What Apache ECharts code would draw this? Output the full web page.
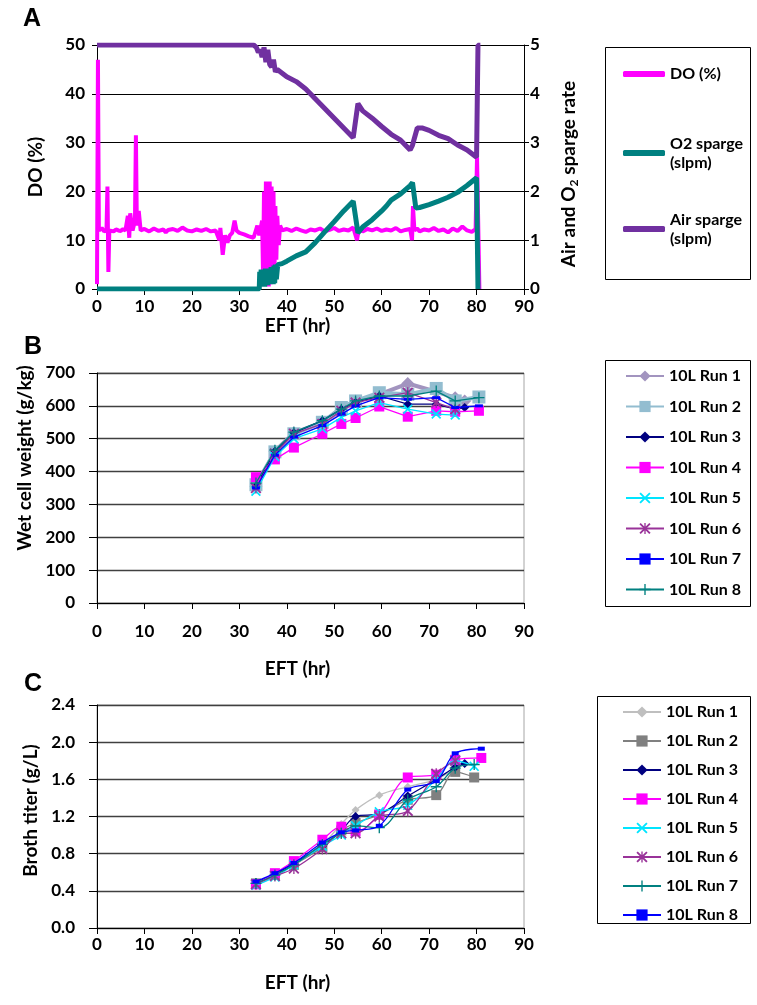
<!DOCTYPE html>
<html><head><meta charset="utf-8">
<script src="https://cdn.jsdelivr.net/npm/echarts@6/dist/echarts.min.js"></script>
<style>html,body{margin:0;padding:0;background:#fff}#c{width:757px;height:1005px}</style>
</head><body><div id="c"></div>
<script>
// ---------- Panel A data: [EFT hr, value] ----------
const doPct = [[0,1],[0.2,47],[0.4,12],[1,12.5],[1.5,11.8],[2,12],[2.2,21],[2.4,3.5],[2.6,12],[3,12.3],[3.5,11.8],[4,12.2],[4.5,12],[5,11.9],[5.5,12.3],[6,12],[6.5,15],[6.8,10.5],[7,15.5],[7.5,12],[8,14],[8.2,31.5],[8.4,13],[8.8,16],[9.2,12],[10,12.3],[11,11.8],[12,12.4],[13,11.9],[14,12.2],[14.5,11.6],[15,12.1],[16,12.3],[17,11.9],[18,12.6],[19,12],[20,11.8],[21,12.2],[22,11.9],[23,12.3],[24,11.8],[25,12],[25.8,10],[26,12.5],[26.5,7],[27,11],[27.5,9.5],[28,11],[28.5,11.5],[29,14],[29.4,12],[30,11.5],[31,11.2],[32,10.8],[33,10.5],[33.8,13],[34.2,11],[34.8,14],[35,3],[35.2,20],[35.4,1],[35.6,22],[35.8,2],[36,21.5],[36.2,0.5],[36.4,22],[36.6,1],[36.8,21],[37,2],[37.2,20],[37.4,3],[37.6,17],[37.8,6],[38,15],[38.3,9],[38.6,13],[39,12],[40,12.3],[41,11.9],[42,12.4],[43,12],[44,11.7],[45,12.2],[46,12],[47,12.4],[48,11.8],[49,12.1],[50,12.5],[51,11.9],[52,12.2],[53,12],[54,12.6],[54.8,10],[55.2,12.4],[56,11.8],[57,12.3],[58,12],[59,12.4],[60,11.9],[61,12.2],[62,12],[63,12.5],[64,11.8],[65,12.1],[66,12.3],[66.4,10],[66.6,17],[66.9,12],[67.5,12.4],[68,11.8],[69,12.2],[70,12],[71,12.5],[72,11.9],[73,12.2],[74,11.6],[75,12.4],[76,11.9],[77,12.8],[78,12],[79,11.7],[79.8,12.3],[80.1,27],[80.6,0]];
const o2Sparge = [[0,0],[34.2,0],[34.3,0.35],[34.45,0.05],[34.6,0.4],[34.75,0.05],[34.9,0.38],[35.05,0.05],[35.2,0.4],[35.35,0.05],[35.5,0.42],[35.65,0.08],[35.8,0.42],[35.95,0.08],[36.1,0.4],[36.25,0.1],[36.4,0.42],[36.55,0.1],[36.7,0.45],[36.85,0.12],[37,0.45],[37.15,0.1],[37.3,0.48],[37.45,0.12],[37.6,0.5],[37.8,0.2],[38.1,0.5],[39,0.52],[40,0.57],[42,0.68],[44,0.76],[46,0.95],[48,1.17],[50,1.38],[52,1.6],[54,1.8],[55,1.15],[56,1.27],[58,1.42],[60,1.6],[61,1.7],[62,1.82],[64,1.95],[66,2.12],[66.5,2.18],[67.2,1.66],[68,1.67],[70,1.73],[72,1.8],[74,1.88],[76,1.98],[78,2.12],[80,2.28],[80.3,0]];
const airSparge = [[0,5],[33,5],[33.6,4.95],[34,4.85],[34.4,4.9],[34.8,4.75],[35.2,4.95],[35.6,4.65],[36,4.9],[36.4,4.6],[36.8,4.55],[37.2,4.7],[37.6,4.45],[38,4.5],[40,4.35],[42,4.25],[44,4.1],[46,3.9],[48,3.7],[50,3.5],[52,3.3],[54,3.1],[55,3.8],[56,3.65],[58,3.5],[60,3.33],[62,3.17],[64,3.05],[66,2.85],[66.5,2.95],[67.5,3.3],[68.5,3.3],[70,3.25],[72,3.15],[74,3.08],[76,2.95],[78,2.85],[80,2.7],[80.3,5],[80.8,5]];

// ---------- Panel B data: wet cell weight (g/kg) ----------
const wcwTime = [33.5,37.5,41.5,47.5,51.5,54.5,59.5,65.5,71.5,75.5,77.5,80.5];
const wcwRun1 = [355,462,518,550,585,615,635,668,643,625,615,null];
const wcwRun2 = [360,460,515,550,595,615,640,635,653,615,null,627];
const wcwRun3 = [355,462,518,555,590,610,630,605,605,590,595,null];
const wcwRun4 = [383,437,473,515,545,563,598,567,585,582,null,585];
const wcwRun5 = [340,445,500,530,565,585,610,590,575,572,null,null];
const wcwRun6 = [350,455,515,545,585,610,625,640,610,590,null,null];
const wcwRun7 = [350,450,505,540,575,600,625,620,625,595,null,600];
const wcwRun8 = [365,465,520,555,590,615,630,630,645,615,null,625];

// ---------- Panel C data: broth titer (g/L) ----------
const titerTime = [33.5,37.5,41.5,47.5,51.5,54.5,59.5,65.5,71.5,75.5,77.5,79.5,81];
const titerRun1 = [0.48,0.58,0.70,0.90,1.12,1.27,1.43,1.52,1.60,1.72,null,null,null];
const titerRun2 = [0.48,0.57,0.68,0.87,1.05,1.13,1.22,1.38,1.43,1.68,null,1.62,null];
const titerRun3 = [0.49,0.58,0.70,0.88,1.05,1.20,1.23,1.42,1.60,1.73,1.77,null,null];
const titerRun4 = [0.47,0.59,0.72,0.95,1.09,1.04,1.22,1.62,1.65,1.81,null,null,1.83];
const titerRun5 = [0.46,0.55,0.68,0.88,1.00,1.10,1.25,1.32,1.60,1.80,null,1.74,null];
const titerRun6 = [0.47,0.56,0.64,0.85,1.02,1.02,1.20,1.26,1.66,1.80,null,null,null];
const titerRun7 = [0.48,0.57,0.68,0.90,1.02,1.10,1.08,1.38,1.52,1.72,null,1.76,null];
const titerRun8 = [0.50,0.59,0.70,0.92,1.03,1.05,1.10,1.49,1.58,1.88,null,null,1.93];

const runNames = ['10L Run 1','10L Run 2','10L Run 3','10L Run 4','10L Run 5','10L Run 6','10L Run 7','10L Run 8'];

// ---------- styling ----------
const FONT = 'Lato';
const SYM_X = 'path://M0,1.2L1.2,0L5,3.8L8.8,0L10,1.2L6.2,5L10,8.8L8.8,10L5,6.2L1.2,10L0,8.8L3.8,5Z';
const SYM_AST = 'path://M0,1.2L1.2,0L5,3.8L8.8,0L10,1.2L6.2,5L10,8.8L8.8,10L5,6.2L1.2,10L0,8.8L3.8,5Z M4.4,0L5.6,0L5.6,10L4.4,10Z';
const SYM_PLUS = 'path://M4.4,0L5.6,0L5.6,4.4L10,4.4L10,5.6L5.6,5.6L5.6,10L4.4,10L4.4,5.6L0,5.6L0,4.4L4.4,4.4Z';

function pairs(t, v){ return t.map((x,i)=>[x, v[i]]).filter(p=>p[1]!=null); }
const lbl = (margin)=>({fontFamily:FONT, fontWeight:'bold', fontSize:17, color:'#000', margin});
const nameStyle = {fontFamily:FONT, fontWeight:'bold', fontSize:19, color:'#000'};

function xAx(gi, margin, gap){
  return {type:'value', gridIndex:gi, min:0, max:90, interval:10,
    name:'EFT (hr)', nameLocation:'middle', nameGap:gap, nameTextStyle:Object.assign({}, nameStyle, {padding:[0,26,0,0]}),
    axisLine:{show:true, onZero:false, lineStyle:{color:'#000', width:1}},
    axisTick:{show:true, length:6, lineStyle:{color:'#000'}},
    axisLabel:lbl(margin), splitLine:{show:false}};
}

const bStyles = [
  {c:'#A294BF', s:'diamond', sz:13, w:4},
  {c:'#93BDD0', s:'rect', sz:13, w:4},
  {c:'#000080', s:'diamond', sz:9, w:1.3},
  {c:'#FF00FF', s:'rect', sz:10, w:1.3},
  {c:'#00E5FF', s:SYM_X, sz:10, w:1.3},
  {c:'#993399', s:SYM_AST, sz:11, w:1.3},
  {c:'#0000FF', s:'rect', sz:[8,3], w:1.3},
  {c:'#008080', s:SYM_PLUS, sz:11, w:1.3}
];
const cStyles = [
  {c:'#BFBFBF', s:'diamond', sz:8, w:1.3},
  {c:'#808080', s:'rect', sz:10, w:1.3},
  {c:'#000080', s:'diamond', sz:9, w:1.3},
  {c:'#FF00FF', s:'rect', sz:10, w:1.3},
  {c:'#00E5FF', s:SYM_X, sz:10, w:1.3},
  {c:'#993399', s:SYM_AST, sz:11, w:1.3},
  {c:'#008080', s:SYM_PLUS, sz:11, w:1.3},
  {c:'#0000FF', s:'rect', sz:[7,4], w:1.3}
];
const wcwRuns = [wcwRun1,wcwRun2,wcwRun3,wcwRun4,wcwRun5,wcwRun6,wcwRun7,wcwRun8];
const titerRuns = [titerRun1,titerRun2,titerRun3,titerRun4,titerRun5,titerRun6,titerRun7,titerRun8];

const series = [
  {name:'DO (%)', type:'line', xAxisIndex:0, yAxisIndex:0, data:doPct, showSymbol:false, symbol:'none',
   color:'#FF00FF', lineStyle:{color:'#FF00FF', width:4}, z:2},
  {name:'O2 sparge (slpm)', type:'line', xAxisIndex:0, yAxisIndex:1, data:o2Sparge, showSymbol:false, symbol:'none',
   color:'#008080', lineStyle:{color:'#008080', width:5}, z:3},
  {name:'Air sparge (slpm)', type:'line', xAxisIndex:0, yAxisIndex:1, data:airSparge, showSymbol:false, symbol:'none',
   color:'#7030A0', lineStyle:{color:'#7030A0', width:5}, z:4}
];
wcwRuns.forEach((v,i)=>{
  const st = bStyles[i];
  series.push({name:'B|'+runNames[i], type:'line', xAxisIndex:1, yAxisIndex:2, data:pairs(wcwTime, v),
    symbol:st.s, symbolSize:st.sz, color:st.c, itemStyle:{color:st.c}, lineStyle:{color:st.c, width:st.w}, z:3+i});
});
titerRuns.forEach((v,i)=>{
  const st = cStyles[i];
  series.push({name:'C|'+runNames[i], type:'line', xAxisIndex:2, yAxisIndex:3, data:pairs(titerTime, v), smooth:0.35,
    symbol:st.s, symbolSize:st.sz, color:st.c, itemStyle:{color:st.c}, lineStyle:{color:st.c, width:st.w}, z:3+i});
});

const legText = {fontFamily:FONT, fontWeight:'bold', fontSize:16, color:'#000', lineHeight:18};
const strip = n => n.split('|').pop();

const option = {
  animation:false,
  backgroundColor:'#fff',
  grid:[
    {left:97, top:45, width:427, height:244, show:false},
    {left:97, top:373, width:427, height:230, show:true, borderColor:'#A6A6A6', borderWidth:1, backgroundColor:'transparent'},
    {left:97, top:705, width:427, height:223, show:true, borderColor:'#A6A6A6', borderWidth:1, backgroundColor:'transparent'}
  ],
  xAxis:[xAx(0,9,21), xAx(1,20,56), xAx(2,8,45)],
  yAxis:[
    {type:'value', gridIndex:0, min:0, max:50, interval:10, name:'DO (%)', nameLocation:'middle', nameRotate:90, nameGap:52,
     nameTextStyle:nameStyle, axisLine:{show:true, lineStyle:{color:'#000'}}, axisTick:{show:true, length:5, lineStyle:{color:'#000'}},
     axisLabel:lbl(12), splitLine:{show:true, lineStyle:{color:'#000', width:1}}},
    {type:'value', gridIndex:0, position:'right', min:0, max:5, interval:1, name:'Air and O{sub|2} sparge rate', nameLocation:'middle', nameRotate:90, nameGap:34,
     nameTextStyle:Object.assign({}, nameStyle, {lineHeight:22, padding:[0,14,0,0], rich:{sub:{fontFamily:FONT, fontWeight:'bold', fontSize:12, lineHeight:12, verticalAlign:'bottom', color:'#000'}}}),
     axisLine:{show:true, lineStyle:{color:'#000'}}, axisTick:{show:true, length:5, lineStyle:{color:'#000'}},
     axisLabel:lbl(6), splitLine:{show:false}},
    {type:'value', gridIndex:1, min:0, max:700, interval:100, name:'Wet cell weight (g/kg)', nameLocation:'middle', nameRotate:90, nameGap:60,
     nameTextStyle:Object.assign({}, nameStyle, {padding:[0,0,0,60]}), axisLine:{show:true, lineStyle:{color:'#000'}}, axisTick:{show:true, length:8, lineStyle:{color:'#000'}},
     axisLabel:lbl(22), splitLine:{show:true, lineStyle:{color:'#404040', width:1.3}}},
    {type:'value', gridIndex:2, min:0, max:2.4, interval:0.4, name:'Broth titer (g/L)', nameLocation:'middle', nameRotate:90, nameGap:56,
     nameTextStyle:Object.assign({}, nameStyle, {padding:[0,0,0,12]}), axisLine:{show:true, lineStyle:{color:'#000'}}, axisTick:{show:true, length:8, lineStyle:{color:'#000'}},
     axisLabel:Object.assign(lbl(22), {formatter:v=>v.toFixed(1)}), splitLine:{show:true, lineStyle:{color:'#404040', width:1.3}}}
  ],
  legend:[
    {data:['DO (%)'], left:623, top:64.5, padding:0, icon:'roundRect', itemWidth:42, itemHeight:6, textStyle:Object.assign({}, legText, {lineHeight:19})},
    {data:['O2 sparge (slpm)'], left:623, top:124.5, padding:0, icon:'roundRect', itemWidth:42, itemHeight:6,
     formatter:n=>n.replace(' (','\n('), textStyle:Object.assign({}, legText, {lineHeight:19, padding:[19,0,0,0]})},
    {data:['Air sparge (slpm)'], left:623, top:200.5, padding:0, icon:'roundRect', itemWidth:42, itemHeight:6,
     formatter:n=>n.replace(' (','\n('), textStyle:Object.assign({}, legText, {lineHeight:19, padding:[19,0,0,0]})},
    {data:runNames.map(n=>'B|'+n), orient:'vertical', left:625, top:367, padding:0, itemGap:12.5, itemWidth:38, itemHeight:14,
     formatter:strip, textStyle:legText},
    {data:runNames.map(n=>'C|'+n), orient:'vertical', left:622, top:703, padding:0, itemGap:11, itemWidth:38, itemHeight:14,
     formatter:strip, textStyle:legText}
  ],
  graphic:[
    {type:'rect', shape:{x:605.5, y:47.5, width:145, height:232}, style:{fill:'none', stroke:'#000', lineWidth:1}},
    {type:'rect', shape:{x:605.5, y:360.5, width:145, height:246}, style:{fill:'none', stroke:'#000', lineWidth:1}},
    {type:'rect', shape:{x:597.5, y:696.5, width:153, height:227}, style:{fill:'none', stroke:'#000', lineWidth:1}},
    {type:'text', x:32, y:19, style:{text:'A', align:'center', verticalAlign:'middle', font:'bold 25px "Liberation Sans", Arial', fill:'#000'}},
    {type:'text', x:33, y:347, style:{text:'B', align:'center', verticalAlign:'middle', font:'bold 25px "Liberation Sans", Arial', fill:'#000'}},
    {type:'text', x:33, y:684, style:{text:'C', align:'center', verticalAlign:'middle', font:'bold 25px "Liberation Sans", Arial', fill:'#000'}}
  ],
  series
};
const chart = echarts.init(document.getElementById('c'), null, {renderer:'canvas'});
chart.setOption(option);
</script>
</body></html>
